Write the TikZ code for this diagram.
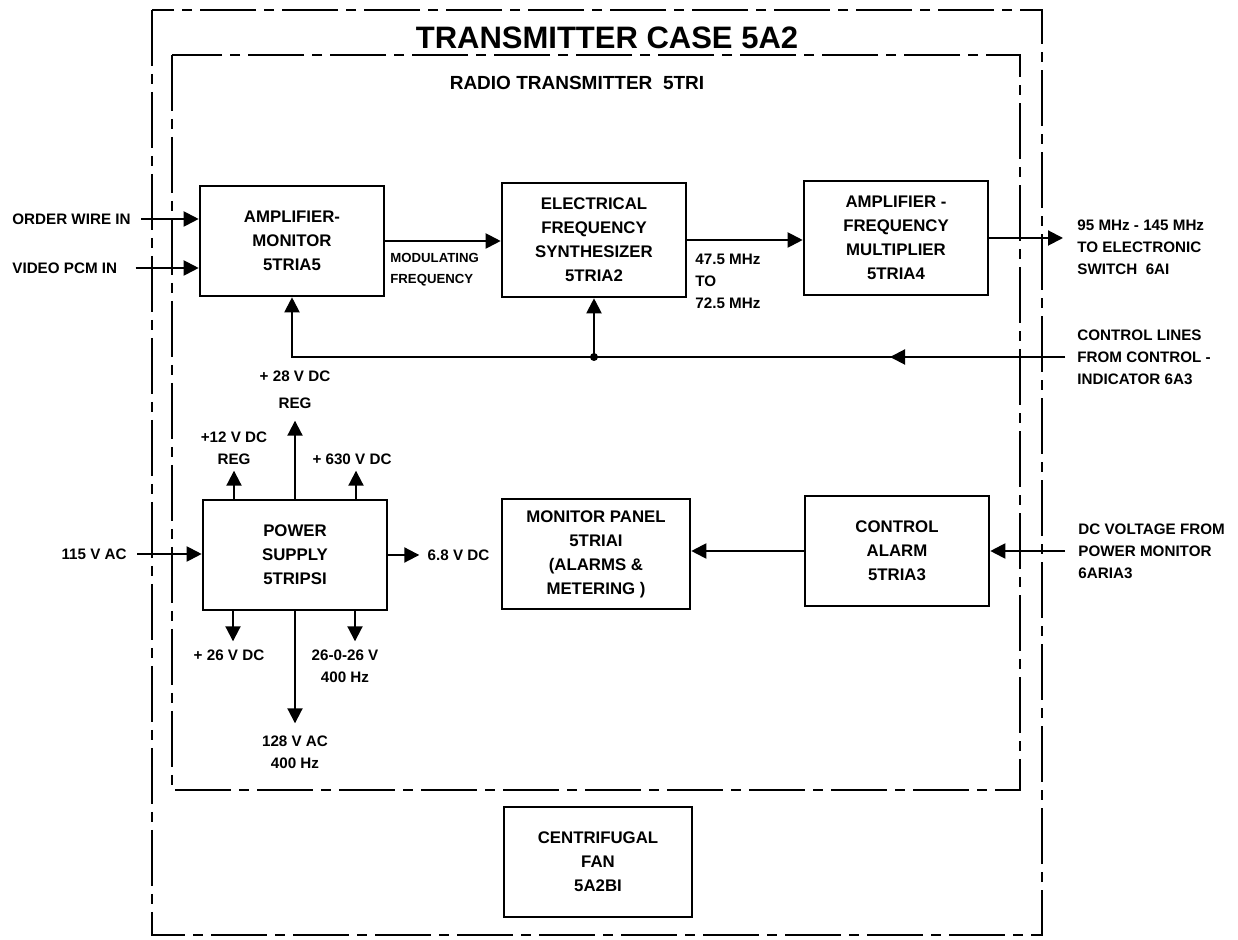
\documentclass[tikz,border=0pt]{standalone}
\usepackage{fontspec}
\setmainfont{Liberation Sans}
\usetikzlibrary{arrows.meta,positioning}
\begin{document}
\begin{tikzpicture}[x=0.5pt,y=-0.5pt,
  every node/.style={font=\bfseries\fontsize{7.6}{11}\selectfont,align=center,inner sep=0pt},
  blk/.style={draw,line width=1.3pt,minimum width=92pt,minimum height=55pt,font=\bfseries\fontsize{8.4}{12}\selectfont},
  a/.style={line width=1pt,-{Triangle[length=7.5pt,width=7.5pt]}},
  frame/.style={line width=0.8pt,dash pattern=on 28pt off 4pt on 5pt off 4pt}]
  \useasboundingbox (0,0) rectangle (1238,940);
  \draw[frame] (152,10) rectangle (1042,935);
  \draw[frame] (172,55) rectangle (1020,790);
  \node[font=\bfseries\fontsize{15.5}{18}\selectfont] (case) at (607,38) {TRANSMITTER CASE 5A2};
  \node[font=\bfseries\fontsize{9.5}{12}\selectfont] (radio) at (577,83) {RADIO TRANSMITTER\ \ 5TRI};

  \node[blk] (amon) at (292,241) {AMPLIFIER-\\MONITOR\\5TRIA5};
  \node[blk,minimum height=57pt] (synth) at (594,240) {ELECTRICAL\\FREQUENCY\\SYNTHESIZER\\5TRIA2};
  \node[blk,minimum height=57pt] (mult) at (896,238) {AMPLIFIER -\\FREQUENCY\\MULTIPLIER\\5TRIA4};
  \node[blk] (psu) at (295,555) {POWER\\SUPPLY\\5TRIPSI};
  \node[blk,minimum width=94pt] (mpanel) at (596,554) {MONITOR PANEL\\5TRIAI\\(ALARMS \&\\METERING )};
  \node[blk] (calarm) at (897,551) {CONTROL\\ALARM\\5TRIA3};
  \node[blk,minimum width=94pt] (fan) at (598,862) {CENTRIFUGAL\\FAN\\5A2BI};

  \node[anchor=west] (owin) at (12,219) {ORDER WIRE IN};
  \node[anchor=west] (vin) at (12,268) {VIDEO PCM IN};
  \draw[a] ([xshift=5pt]owin.east) -- (owin -| amon.west);
  \draw[a] ([xshift=9pt]vin.east) -- (vin -| amon.west);

  \draw[a] (amon.east) -- (amon.east -| synth.west);
  \node[anchor=west,align=left,font=\bfseries\fontsize{6.6}{10.5}\selectfont] (modf) at (390,270) {MODULATING\\FREQUENCY};
  \draw[a] (synth.east) -- (synth.east -| mult.west);
  \node[anchor=west,align=left] (fout) at (695,281) {47.5 MHz\\TO\\72.5 MHz};
  \coordinate (rfout) at (1063,238);
  \draw[a] (mult.east) -- (rfout);
  \node[right=7pt of rfout,yshift=-4.5pt,align=left] (rflbl) {95 MHz - 145 MHz\\TO ELECTRONIC\\SWITCH\ \ 6AI};

  \coordinate (ctlin) at (1065,357);
  \node[right=6pt of ctlin,align=left] (ctllbl) {CONTROL LINES\\FROM CONTROL -\\INDICATOR 6A3};
  \coordinate (ctlj) at (synth.south |- ctlin);
  \draw[a] (ctlin) -- ++(-175,0);
  \draw[a] (ctlin) -| (amon.south);
  \draw[a] (ctlj) -- (synth.south);
  \fill (ctlj) circle (2pt);

  \draw[a] (psu.north) -- ++(0,-78) coordinate (v28);
  \node[above=6pt of v28] (l28) {+ 28 V DC\\[2.5pt]REG};
  \draw[a] (psu.north) ++(-61,0) -- ++(0,-28) coordinate (v12);
  \node[above=3pt of v12] (l12) {+12 V DC\\REG};
  \draw[a] (psu.north) ++(61,0) -- ++(0,-28) coordinate (v630);
  \node[above=3pt of v630,xshift=-2pt] (l630) {+ 630 V DC};
  \draw[a] (psu.south) ++(-62,0) -- ++(0,30) coordinate (v26);
  \node[below=4pt of v26,xshift=-2pt] (l26) {+ 26 V DC};
  \draw[a] (psu.south) ++(60,0) -- ++(0,30) coordinate (v2626);
  \node[below=4pt of v2626,xshift=-5pt] (l2626) {26-0-26 V\\400 Hz};
  \draw[a] (psu.south) -- ++(0,112) coordinate (v128);
  \node[below=6pt of v128] (l128) {128 V AC\\400 Hz};
  \node[anchor=east] (acin) at (127,554) {115 V AC};
  \draw[a] ([xshift=5pt]acin.east) -- (acin -| psu.west);
  \draw[a] (psu.east) -- ++(31,0) coordinate (v68);
  \node[right=4pt of v68] (l68) {6.8 V DC};

  \draw[a] (calarm.west) -- (calarm.west -| mpanel.east);
  \coordinate (dcin) at (1065,551);
  \draw[a] (dcin) -- (calarm.east);
  \node[right=6.5pt of dcin,align=left] (dclbl) {DC VOLTAGE FROM\\POWER MONITOR\\6ARIA3};
\end{tikzpicture}
\end{document}
